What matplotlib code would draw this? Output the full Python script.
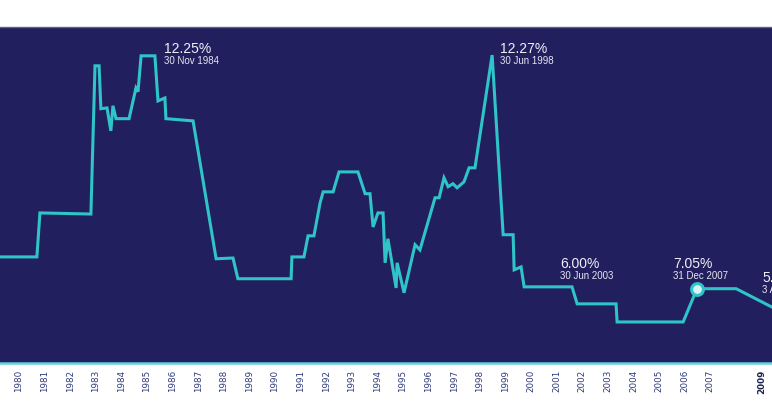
import matplotlib
matplotlib.use("Agg")
import matplotlib.pyplot as plt

# 数据 (年份, 利率%)
years = [1979.26, 1980.70, 1980.82, 1982.81, 1982.97, 1983.13, 1983.20, 1983.44,
         1983.59, 1983.67, 1983.79, 1984.30, 1984.57, 1984.65, 1984.77, 1985.31,
         1985.43, 1985.70, 1985.74, 1986.80, 1987.70, 1988.36, 1988.55, 1990.63,
         1990.66, 1991.13, 1991.29, 1991.52, 1991.76, 1991.88, 1992.27, 1992.50,
         1993.24, 1993.52, 1993.71, 1993.83, 1994.02, 1994.22, 1994.30, 1994.41,
         1994.73, 1994.77, 1995.04, 1995.47, 1995.66, 1996.25, 1996.41, 1996.60,
         1996.76, 1996.95, 1997.11, 1997.38, 1997.58, 1997.81, 1998.48, 1998.91,
         1999.30, 1999.34, 1999.61, 1999.73, 2001.60, 2001.80, 2003.32, 2003.36,
         2005.94, 2006.48, 2008.01, 2009.50]
rates = [6.81, 6.81, 8.00, 7.97, 11.98, 11.98, 10.82, 10.84,
         10.22, 10.90, 10.55, 10.55, 11.38, 11.28, 12.25, 12.25,
         11.03, 11.11, 10.55, 10.49, 6.76, 6.78, 6.22, 6.22,
         6.81, 6.81, 7.38, 7.38, 8.27, 8.57, 8.57, 9.11,
         9.11, 8.52, 8.52, 7.62, 8.00, 8.00, 6.65, 7.30,
         5.97, 6.65, 5.84, 7.14, 7.00, 8.41, 8.41, 8.95,
         8.71, 8.79, 8.68, 8.84, 9.22, 9.22, 12.27, 7.41,
         7.41, 6.46, 6.54, 6.00, 6.00, 5.54, 5.54, 5.05,
         5.05, 5.95, 5.95, 5.42]

# 标注
ann_x = [1985.66, 1998.79, 2001.13, 2005.55, 2009.02]
ann_y = [12.33, 12.33, 6.51, 6.51, 6.13]
ann_rate = ['12.25%', '12.27%', '6.00%', '7.05%', '5.75%']
ann_date = ['30 Nov 1984', '30 Jun 1998', '30 Jun 2003', '31 Dec 2007', '3 Apr 2009']
ann_gap = 0.30

marker_x = 2006.48
marker_y = 5.95

tick_years = list(range(1980, 2008)) + [2009]

navy = '#221f5f'
cyan = '#2ec4c8'

fig = plt.figure(figsize=(7.72, 4.05), dpi=100)
ax = fig.add_axes([0, 42 / 405, 1, 336 / 405])
ax.set_facecolor(navy)

ax.plot(years, rates, color=cyan, lw=2.2, solid_joinstyle='miter')
ax.plot([marker_x], [marker_y], marker='o', ms=8.5, mfc='#d6f4f4', mec=cyan, mew=2.2)

for i in range(len(ann_x)):
    ax.text(ann_x[i], ann_y[i], ann_rate[i], color='#f0eff7', fontsize=10,
            family='Liberation Sans', va='baseline', ha='left')
    ax.text(ann_x[i], ann_y[i] - ann_gap, ann_date[i], color='#e6e5f0', fontsize=7,
            family='Liberation Sans', va='baseline', ha='left')

ax.set_xlim(1979.26, 2009.41)
ax.set_ylim(3.94, 13.03)
ax.set_yticks([])
ax.set_xticks(tick_years)
ax.set_xticklabels([str(y) for y in tick_years], rotation=90, fontsize=6.3, color='#2e3a7a')
ax.get_xticklabels()[-1].set_fontweight('bold')
ax.get_xticklabels()[-1].set_color('#1c2250')
ax.tick_params(axis='x', length=0, pad=5)

for s in ['left', 'right']:
    ax.spines[s].set_visible(False)
ax.spines['top'].set_color('#5a6092')
ax.spines['top'].set_linewidth(1.0)
ax.spines['bottom'].set_color('#62d2e0')
ax.spines['bottom'].set_linewidth(1.8)

fig.savefig('out.png', dpi=100)
